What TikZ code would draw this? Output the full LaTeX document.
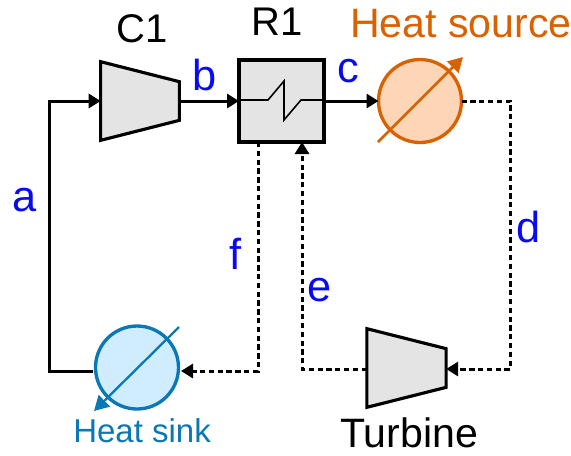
\documentclass[tikz,border=0pt]{standalone}
\usepackage{fontspec}
\setmainfont{Liberation Sans}
\usetikzlibrary{arrows.meta,calc}
\definecolor{hot}{HTML}{D96100}
\definecolor{hotfill}{HTML}{FDD6B8}
\definecolor{cold}{HTML}{0A78B4}
\definecolor{coldfill}{HTML}{D0ECFF}
\definecolor{grayfill}{HTML}{E4E4E4}
\definecolor{labelblue}{HTML}{0A0AF0}
\tikzset{
  flow/.style={line width=2.25pt,-{Triangle[length=9pt,width=10.5pt]},black},
  dashflow/.style={flow,line width=2.25pt,dash pattern=on 4pt off 2.6pt},
  anchorbox/.style={inner sep=0pt,outer sep=0pt,minimum width=59pt,minimum height=59pt},
  machine/.style={draw=black,line width=2.35pt,fill=grayfill,line join=miter},
  hx/.style={circle,inner sep=0pt,outer sep=0pt,minimum size=62.25pt,line width=2.5pt},
  title/.style={inner sep=0pt,font=\fontsize{30.8}{36}\selectfont},
  stream/.style={inner sep=0pt,text=labelblue,font=\fontsize{32.5}{38}\selectfont},
}
\begin{document}
\begin{tikzpicture}[x=0.75pt,y=-0.75pt]
\useasboundingbox (0,0) rectangle (571,455);
% machines
\node[anchorbox] (c1) at (140,101) {};
\draw[machine] (c1.north west) -- ($(c1.north east)+(0,20)$) -- ($(c1.south east)+(0,-20)$) -- (c1.south west) -- cycle;
\node[machine,line width=2.27pt,inner sep=0pt,outer sep=0pt,minimum width=63.75pt,minimum height=61.5pt] (r1) at (281.5,101) {};
\coordinate (z1) at (268,100);
\coordinate (z2) at (284,81);
\coordinate (z3) at (284,120);
\coordinate (z4) at (301,100);
\draw[line width=1.2pt,line join=miter] (r1.west |- z1) -- (z1) -- (z2) -- (z3) -- (z4) -- (r1.east |- z4);
\node[anchorbox,minimum width=59.5pt] (t1) at (406.5,368) {};
\draw[machine] (t1.north west) -- ($(t1.north east)+(0,20)$) -- ($(t1.south east)+(0,-20)$) -- (t1.south west) -- cycle;
% heat exchangers
\node[hx,draw=hot,fill=hotfill] (hs) at (420,101) {};
\coordinate (hsa) at (378,142);
\coordinate (hsb) at (463,57);
\draw[hot,line width=2pt,-{Triangle[length=11pt,width=12pt]}] (hsa) -- (hsb);
\node[hx,draw=cold,fill=coldfill] (hk) at (137,367.5) {};
\coordinate (hka) at (179,327);
\coordinate (hkb) at (94,411);
\draw[cold,line width=1.7pt,-{Triangle[length=11pt,width=12pt]}] (hka) -- (hkb);
% connectors
\coordinate (a1) at (49,371);
\coordinate (a2) at (49,101);
\coordinate (a0) at (93,371);
\draw[flow] (a0) -- (a1) -- (a2) -- (c1.west |- a2);
\draw[flow] (c1.east) -- (r1.west);
\draw[flow] (r1.east) -- (hs.west);
\coordinate (d1) at (510,101);
\coordinate (d2) at (510,369);
\draw[dashflow] (hs.east) -- (d1) -- (d2) -- (t1.east |- d2);
\coordinate (e1) at (302,369);
\coordinate (e2) at (302,143);
\draw[dashflow] (t1.west |- e1) -- (e1) -- (r1.south -| e2);
\coordinate (f1) at (258,371);
\coordinate (f2) at (181,371);
\draw[dashflow] (r1.south -| f1) -- (f1) -- (f2);
% titles
\node[title,font=\fontsize{30}{36}\selectfont] (tc1) at (142,29) {C1};
\node[title,font=\fontsize{30}{36}\selectfont] (tr1) at (277,22) {R1};
\node[title,text=hot,anchor=west] (ths) at (350,23.5) {Heat source};
\node[title,anchor=west] (ttu) at (340,432.5) {Turbine};
\node[inner sep=0pt,text=cold,font=\fontsize{24.75}{30}\selectfont,anchor=west] (thk) at (73,431) {Heat sink};
% stream labels
\node[stream] (la) at (25,200) {a};
\node[stream] (lb) at (205,75) {b};
\node[stream] (lc) at (348,71) {c};
\node[stream] (ld) at (529,227) {d};
\node[stream] (le) at (320,290) {e};
\node[stream] (lf) at (236,254) {f};
\end{tikzpicture}
\end{document}
